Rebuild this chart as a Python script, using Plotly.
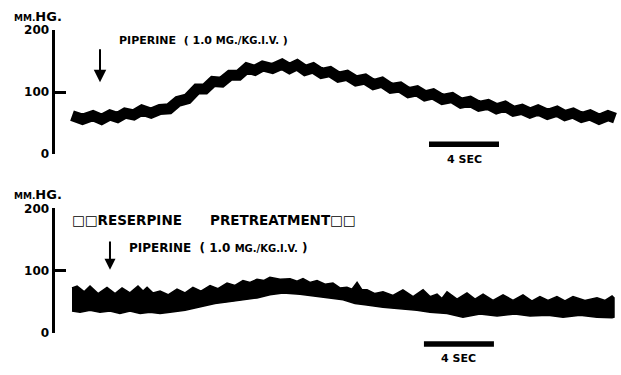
import plotly.graph_objects as go

# ---------------- data (time in s, pressure in mm Hg) ----------------
top_t = [0.0, 0.6, 1.2, 1.69, 2.17, 2.6, 3.03, 3.52, 4.0, 4.52,
         5.03, 5.55, 6.06, 6.6, 7.14, 7.6, 8.06, 8.55, 9.03, 9.52,
         10.0, 10.45, 10.9, 11.45, 12.0, 12.43, 12.86, 13.32, 13.77, 14.26,
         14.74, 15.23, 15.71, 16.23, 16.74, 17.23, 17.71, 18.23, 18.74, 19.23,
         19.71, 20.17, 20.63, 21.17, 21.71, 22.23, 22.74, 23.26, 23.77, 24.26,
         24.74, 25.23, 25.71, 26.17, 26.63, 27.17, 27.71, 28.17, 28.63, 29.12,
         29.6, 30.12, 30.63, 31.03]
top_mmhg = [62, 56, 62, 56, 63, 59, 66, 63, 71, 66,
            72, 73, 85, 89, 105, 105, 117, 116, 127, 127,
            139, 135, 142, 138, 145, 138, 144, 135, 139, 130,
            133, 124, 127, 118, 121, 112, 116, 106, 108, 99,
            102, 94, 97, 88, 91, 82, 85, 77, 80, 73,
            77, 69, 72, 66, 71, 64, 69, 62, 66, 59,
            63, 56, 62, 58]

bot_upper_t = [0.0, 0.29, 0.69, 1.03, 1.49, 2.0, 2.46, 2.86, 3.31, 3.77,
               4.06, 4.29, 4.63, 5.03, 5.49, 6.0, 6.46, 6.91, 7.37, 7.89,
               8.34, 8.86, 9.31, 9.77, 10.17, 10.57, 10.97, 11.31, 11.89, 12.46,
               12.86, 13.2, 13.6, 14.0, 14.46, 14.91, 15.31, 15.71, 16.0, 16.29,
               16.57, 16.86, 17.31, 17.77, 18.34, 18.91, 19.49, 20.06, 20.46, 20.86,
               21.14, 21.43, 22.0, 22.57, 23.03, 23.49, 24.06, 24.63, 25.2, 25.77,
               26.29, 26.74, 27.2, 27.71, 28.17, 28.63, 29.31, 30.0, 30.46, 30.86,
               30.97]
bot_upper_mmhg = [72, 75, 66, 75, 63, 73, 63, 72, 64, 75,
                  67, 73, 64, 67, 61, 70, 64, 73, 67, 76,
                  71, 80, 76, 84, 81, 86, 84, 89, 86, 87,
                  83, 87, 81, 84, 78, 80, 72, 73, 70, 81,
                  69, 69, 63, 66, 60, 69, 58, 69, 58, 62,
                  55, 66, 54, 64, 54, 62, 52, 61, 52, 61,
                  51, 58, 52, 58, 51, 58, 52, 56, 52, 59,
                  56]
bot_lower_t = [0.0, 0.46, 1.03, 1.6, 2.17, 2.74, 3.31, 3.89, 4.46, 5.03,
               5.6, 6.46, 7.31, 8.17, 9.03, 9.89, 10.57, 11.31, 12.06, 13.03,
               14.0, 14.74, 15.49, 16.17, 16.74, 17.77, 18.74, 19.71, 20.46, 21.43,
               22.34, 23.31, 24.29, 25.31, 26.17, 27.2, 28.06, 29.03, 30.0, 30.86,
               30.97]
bot_lower_mmhg = [35, 33, 36, 33, 35, 31, 35, 31, 33, 31,
                  33, 36, 42, 47, 50, 53, 56, 61, 64, 62,
                  59, 56, 53, 47, 45, 41, 38, 36, 33, 31,
                  25, 30, 27, 30, 27, 28, 25, 28, 25, 24,
                  25]

y_ticks = [0, 100, 200]
y_tick_text = ["0", "100", "200"]
scale_bar_s = 4

# ---------------- geometry ----------------
W, H = 621, 375
PX_PER_S = 17.5
X0_PX = 72.0
x_range = [-X0_PX / PX_PER_S, (W - X0_PX) / PX_PER_S]
axis_pos = 52.5 / W
top_dom = [1 - 152.7 / H, 1 - 24.0 / H]
bot_dom = [1 - 338.3 / H, 1 - 209.3 / H]

FONT = "DejaVu Sans"
BLACK = "#000000"

fig = go.Figure()

# top trace: thick pulsatile line
fig.add_trace(go.Scatter(
    x=top_t, y=top_mmhg, mode="lines", xaxis="x", yaxis="y",
    line=dict(color=BLACK, width=11), hoverinfo="skip", showlegend=False))

# bottom trace: dense band between envelopes
band_x = bot_upper_t + bot_lower_t[::-1]
band_y = bot_upper_mmhg + bot_lower_mmhg[::-1]
fig.add_trace(go.Scatter(
    x=band_x, y=band_y, mode="lines", fill="toself", fillcolor=BLACK,
    xaxis="x", yaxis="y2", line=dict(color=BLACK, width=1.5),
    hoverinfo="skip", showlegend=False))

axis_common = dict(
    range=[0, 200], tickvals=y_ticks, ticktext=y_tick_text,
    ticks="inside", ticklen=11, tickwidth=2.5, tickcolor=BLACK,
    showline=True, linewidth=3, linecolor=BLACK,
    showgrid=False, zeroline=False, anchor="free", position=axis_pos,
    tickfont=dict(family=FONT, size=12, color=BLACK, weight="bold"),
    fixedrange=True,
)

fig.update_layout(
    width=W, height=H, margin=dict(l=0, r=0, t=0, b=0),
    paper_bgcolor="white", plot_bgcolor="white",
    xaxis=dict(domain=[0, 1], range=x_range, visible=False, fixedrange=True),
    yaxis=dict(domain=top_dom, **axis_common),
    yaxis2=dict(domain=bot_dom, **axis_common),
)

# scale bars (4 s)
bars = [(20.4, 1 - 142.5 / H), (20.11, 1 - 350.0 / H)]
for x0, yp in bars:
    fig.add_shape(type="line", xref="x", yref="paper",
                  x0=x0, x1=x0 + scale_bar_s, y0=yp, y1=yp,
                  line=dict(color=BLACK, width=5.5))

def txt(x, y, text, size, xanchor="left", xref="paper"):
    fig.add_annotation(x=x, y=y, xref=xref, yref="paper", text=text,
                       showarrow=False, xanchor=xanchor, yanchor="middle",
                       font=dict(family=FONT, size=size, color=BLACK, weight="bold"))

sp = "\u00a0"
# unit labels
for ypx in (10, 195):
    txt(12 / W, 1 - ypx / H,
        "<span style='font-size:9px'>MM.</span>HG.", 13)

# 4 SEC labels
txt(20.4 + scale_bar_s / 2, 1 - 158 / H, "4" + sp + "SEC", 11, "center", "x")
txt(20.11 + scale_bar_s / 2, 1 - 365 / H, "4" + sp + "SEC", 11, "center", "x")

small = "<span style='font-size:10px'>MG./KG.I.V.</span>"
txt(117 / W, 1 - 35 / H,
    "PIPERINE" + sp * 2 + "(" + sp + "1.0" + sp + small + sp + ")", 11)
txt(127 / W, 1 - 250 / H,
    "PIPERINE" + sp * 2 + "(" + sp + "1.0" + sp + small + sp + ")", 12)
txt(70 / W, 1 - 221 / H, "\u25a1\u25a1RESERPINE", 13.5)
txt(208 / W, 1 - 221 / H, "PRETREATMENT\u25a1\u25a1", 13.5)

# injection arrows
fig.add_annotation(x=1.6, y=115.8, xref="x", yref="y",
                   ax=1.6, ay=171.6, axref="x", ayref="y", text="",
                   showarrow=True, arrowhead=2, arrowsize=1.25, arrowwidth=2,
                   arrowcolor=BLACK)
fig.add_annotation(x=2.17, y=101.2, xref="x", yref="y2",
                   ax=2.17, ay=149.3, axref="x", ayref="y2", text="",
                   showarrow=True, arrowhead=2, arrowsize=1.1, arrowwidth=2,
                   arrowcolor=BLACK)

fig.write_html("out.html")
